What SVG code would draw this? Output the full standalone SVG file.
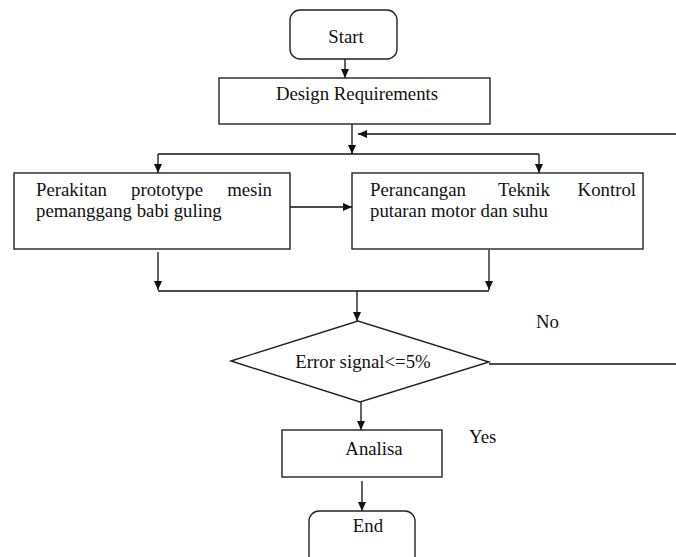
<svg xmlns="http://www.w3.org/2000/svg" width="676" height="557" viewBox="0 0 676 557">
<style>
.box{fill:#fff;stroke:#222;stroke-width:1.4}
.ln{fill:none;stroke:#111;stroke-width:1.3}
text{font-family:"Liberation Serif","Times New Roman",serif;font-size:18.8px;fill:#111}
</style>
<defs>
<marker id="ah" markerUnits="userSpaceOnUse" markerWidth="10" markerHeight="9" refX="9" refY="4" orient="auto">
<path d="M0,0 L9,4 L0,8 z" fill="#111"/>
</marker>
</defs>
<rect width="676" height="557" fill="#fff"/>
<g id="connectors">
<line class="ln" x1="345" y1="59" x2="345" y2="78" marker-end="url(#ah)"/>
<line class="ln" x1="352" y1="124" x2="352" y2="154" marker-end="url(#ah)"/>
<line class="ln" x1="676" y1="134" x2="358" y2="134" marker-end="url(#ah)"/>
<polyline class="ln" points="158,154 539,154"/>
<line class="ln" x1="158" y1="154" x2="158" y2="173" marker-end="url(#ah)"/>
<line class="ln" x1="539" y1="154" x2="539" y2="173" marker-end="url(#ah)"/>
<line class="ln" x1="290" y1="207" x2="352" y2="207" marker-end="url(#ah)"/>
<line class="ln" x1="158" y1="252" x2="158" y2="290" marker-end="url(#ah)"/>
<line class="ln" x1="489" y1="250" x2="489" y2="290" marker-end="url(#ah)"/>
<line class="ln" x1="158" y1="291" x2="489" y2="291" stroke="#555" stroke-width="1.6"/>
<line class="ln" x1="357" y1="291" x2="357" y2="321" marker-end="url(#ah)"/>
<line class="ln" x1="489" y1="364" x2="676" y2="364"/>
<line class="ln" x1="361" y1="402" x2="361" y2="430" marker-end="url(#ah)"/>
<line class="ln" x1="362" y1="481" x2="362" y2="511" marker-end="url(#ah)"/>
<text x="536" y="328">No</text>
<text x="469" y="443">Yes</text>
</g>
<g id="start">
<rect class="box" x="290" y="10" width="107" height="49" rx="10"/>
<text x="346" y="43" text-anchor="middle">Start</text>
</g>
<g id="design">
<rect class="box" x="219" y="78" width="271" height="46"/>
<text x="357" y="100" text-anchor="middle">Design Requirements</text>
</g>
<g id="perakitan">
<rect class="box" x="14" y="173" width="276" height="76"/>
<text x="36" y="196">Perakitan</text>
<text x="167" y="196" text-anchor="middle">prototype</text>
<text x="272" y="196" text-anchor="end">mesin</text>
<text x="36" y="217">pemanggang babi guling</text>
</g>
<g id="perancangan">
<rect class="box" x="352" y="173" width="291" height="76"/>
<text x="370" y="196">Perancangan</text>
<text x="524" y="196" text-anchor="middle">Teknik</text>
<text x="636" y="196" text-anchor="end">Kontrol</text>
<text x="370" y="217">putaran motor dan suhu</text>
</g>
<g id="decision">
<polygon class="box" points="231,361 358,321 489,362 360,402"/>
<text x="363" y="368" text-anchor="middle">Error signal&lt;=5%</text>
</g>
<g id="analisa">
<rect class="box" x="282" y="430" width="160" height="47"/>
<text x="374" y="455" text-anchor="middle">Analisa</text>
</g>
<g id="end">
<rect class="box" x="309" y="511" width="106" height="60" rx="10"/>
<text x="368" y="532" text-anchor="middle">End</text>
</g>
</svg>
